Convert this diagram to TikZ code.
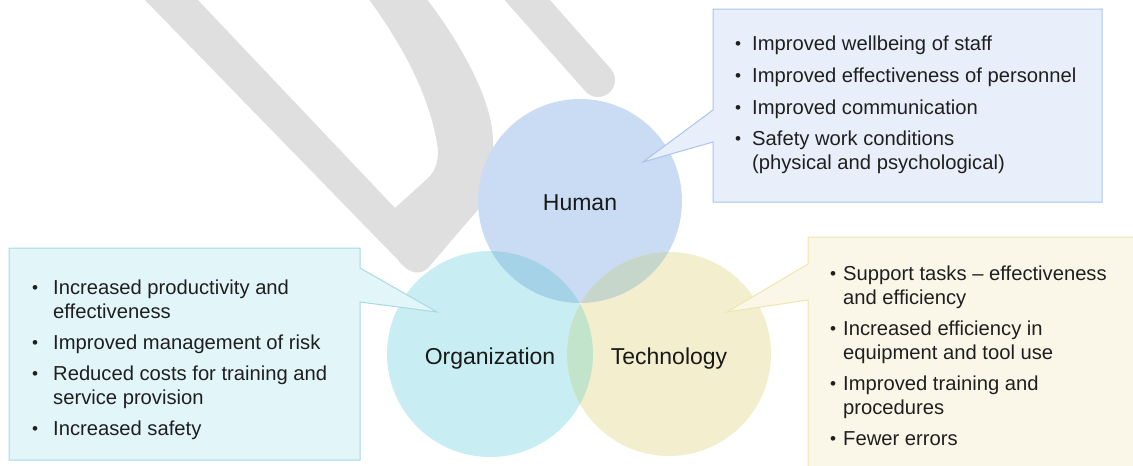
\documentclass[tikz,border=0pt]{standalone}
\usepackage{fontspec}
\setmainfont{Liberation Sans}
\usepackage{graphicx}
\definecolor{wmgray}{HTML}{DFDFDF}
\definecolor{hum}{HTML}{CADCF4}
\definecolor{org}{HTML}{C8EEF3}
\definecolor{tec}{HTML}{F3EFCE}
\definecolor{humorg}{HTML}{A6D2E7}
\definecolor{humtec}{HTML}{C6D6CB}
\definecolor{orgtec}{HTML}{C2E4CB}
\definecolor{hfill}{HTML}{E8EFFA}
\definecolor{hline}{HTML}{A9C4EB}
\definecolor{ofill}{HTML}{E2F5F9}
\definecolor{oline}{HTML}{A6DAE3}
\definecolor{tfill}{HTML}{FAF7E8}
\definecolor{tline}{HTML}{EEE6AA}
\newcommand{\bul}[1]{\llap{\makebox[0pt]{\raisebox{1.0pt}{\scalebox{0.85}{•}}}\hspace{#1}}}
\tikzset{
  txt/.style={font=\fontsize{20.2}{24}\selectfont, inner sep=0pt, anchor=base west, text=black!88},
  lab/.style={font=\fontsize{23}{27}\selectfont, inner sep=0pt, anchor=base, text=black!90},
  callout/.style={line width=1pt},
}
\begin{document}
\begin{tikzpicture}[x=1pt,y=-1pt]
\useasboundingbox (0,0) rectangle (1133,466);
\clip (0,0) rectangle (1133,466);
% background watermark strokes
\fill[wmgray] (143,-2) -- (398,260) .. controls (405,270) and (418,278) .. (428,268)
  -- (482,205) .. controls (492,190) and (494,170) .. (493,140)
  .. controls (492,100) and (462,45) .. (426,-2) -- (368,-2)
  .. controls (395,35) and (430,90) .. (438,150)
  .. controls (438,165) and (434,172) .. (428,178) -- (395,208) -- (196,-2) -- cycle;
\draw[wmgray, line width=34pt, line cap=round] (514,-15) -- (598,80);
% circles
\fill[hum] (580,201) circle[radius=102pt];
\fill[org] (490,354) circle[radius=103pt];
\fill[tec] (669,354) circle[radius=102pt];
\begin{scope}
  \clip (580,201) circle[radius=102pt];
  \fill[humorg] (490,354) circle[radius=103pt];
  \fill[humtec] (669,354) circle[radius=102pt];
\end{scope}
\begin{scope}
  \clip (490,354) circle[radius=103pt];
  \fill[orgtec] (669,354) circle[radius=102pt];
\end{scope}
% callouts
\filldraw[callout, fill=hfill, draw=hline] (713,9) -- (1102,9) -- (1102,202) -- (713,202) -- (713,142) -- (643,162) -- (713,110) -- cycle;
\filldraw[callout, fill=ofill, draw=oline] (9,248) -- (360,248) -- (360,268) -- (437,312) -- (360,302) -- (360,460) -- (9,460) -- cycle;
\filldraw[callout, fill=tfill, draw=tline] (808,237) -- (1145,237) -- (1145,480) -- (808,480) -- (808,300) -- (727,312) -- (808,264) -- cycle;
% circle labels
\node[lab] (human) at (580,210) {Human};
\node[lab] (organization) at (490,364) {Organization};
\node[lab] (technology) at (669,364) {Technology};
% human texts
\node[txt] (h1) at (752,50) {\bul{14pt}Improved wellbeing of staff};
\node[txt] (h2) at (752,82) {\bul{14pt}Improved effectiveness of personnel};
\node[txt] (h3) at (752,114) {\bul{14pt}Improved communication};
\node[txt] (h4) at (752,145) {\bul{14pt}Safety work conditions};
\node[txt] (h5) at (752,169) {(physical and psychological)};
% organization texts
\node[txt] (o1) at (53,294) {\bul{18pt}Increased productivity and};
\node[txt] (o2) at (53,318) {effectiveness};
\node[txt] (o3) at (53,349) {\bul{18pt}Improved management of risk};
\node[txt] (o4) at (53,380) {\bul{18pt}Reduced costs for training and};
\node[txt] (o5) at (53,404) {service provision};
\node[txt] (o6) at (53,435) {\bul{18pt}Increased safety};
% technology texts
\node[txt] (t1) at (843,280) {\bul{10pt}Support tasks – effectiveness};
\node[txt] (t2) at (843,304) {and efficiency};
\node[txt] (t3) at (843,335) {\bul{10pt}Increased efficiency in};
\node[txt] (t4) at (843,359) {equipment and tool use};
\node[txt] (t5) at (843,390) {\bul{10pt}Improved training and};
\node[txt] (t6) at (843,414) {procedures};
\node[txt] (t7) at (843,445) {\bul{10pt}Fewer errors};
\end{tikzpicture}
\end{document}
